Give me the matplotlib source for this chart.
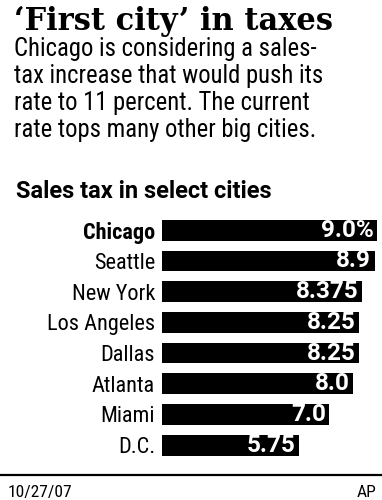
import matplotlib
matplotlib.use('Agg')
import matplotlib.pyplot as plt

cities = ['Chicago', 'Seattle', 'New York', 'Los Angeles', 'Dallas', 'Atlanta', 'Miami', 'D.C.']
rates = [9.0, 8.9, 8.375, 8.25, 8.25, 8.0, 7.0, 5.75]
rate_labels = ['9.0%', '8.9', '8.375', '8.25', '8.25', '8.0', '7.0', '5.75']

title = '\u2018First city\u2019 in taxes'
subtitle = ['Chicago is considering a sales-',
            'tax increase that would push its',
            'rate to 11 percent. The current',
            'rate tops many other big cities.']
header = 'Sales tax in select cities'
date = '10/27/07'
source = 'AP'

W, H = 382, 500
cond = 'Roboto Condensed'

def fx(x): return x / W
def fy(y): return 1 - y / H

fig = plt.figure(figsize=(W / 100, H / 100), dpi=100)
fig.patch.set_facecolor('white')

fig.text(fx(14), fy(30), title, family='DejaVu Serif', fontweight='bold',
         fontsize=22, va='baseline', ha='left')
for i, line in enumerate(subtitle):
    fig.text(fx(14), fy(56 + 27 * i), line, family=cond, fontsize=17.7,
             va='baseline', ha='left')
fig.text(fx(16), fy(198), header, family='Roboto', fontweight='bold',
         fontsize=17, va='baseline', ha='left')

# bars
ax = fig.add_axes([fx(162), fy(460.5), (377 - 162) / W, 245.6 / H])
ax.barh(range(len(cities)), rates, height=0.68, color='black')
ax.set_xlim(0, 9.0)
ax.set_ylim(len(cities) - 0.5, -0.5)
ax.set_yticks(range(len(cities)))
ax.set_yticklabels(cities, family=cond, fontsize=16)
ax.get_yticklabels()[0].set_fontweight('bold')
ax.tick_params(axis='y', length=0, pad=5)
ax.set_xticks([])
for s in ax.spines.values():
    s.set_visible(False)
for i, (v, lab) in enumerate(zip(rates, rate_labels)):
    ax.annotate(lab, xy=(v, i), xytext=(-2.5, 0), textcoords='offset points',
                ha='right', va='center', color='white', family='Roboto',
                fontweight='bold', fontsize=17.5)

# footer
fig.add_artist(plt.Line2D([0, 1], [fy(475), fy(475)], color='black', lw=1.6))
fig.text(fx(8), fy(497), date, family=cond, fontsize=12.5, va='baseline', ha='left')
fig.text(fx(376), fy(497), source, family=cond, fontsize=12.5, va='baseline', ha='right')

fig.savefig('out.png', dpi=100)
